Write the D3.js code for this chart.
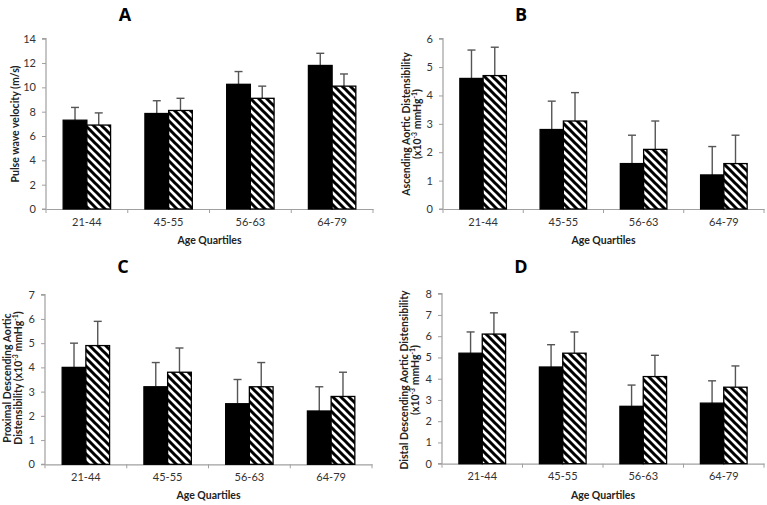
<!DOCTYPE html>
<html><head><meta charset="utf-8">
<script src="https://cdn.jsdelivr.net/npm/d3@7"></script>
<style>body{margin:0;background:#fff}svg{display:block}</style>
</head><body>
<svg id="c" width="767" height="505"></svg>
<script>
const categories = ["21-44", "45-55", "56-63", "64-79"];
// Panel A: pulse wave velocity
const aBlack = [7.3, 7.85, 10.25, 11.8];
const aBlackErr = [1.05, 1.05, 1.05, 1.0];
const aHatch = [6.9, 8.1, 9.1, 10.1];
const aHatchErr = [1.0, 1.0, 1.0, 1.0];
const aTicks = [0, 2, 4, 6, 8, 10, 12, 14];
// Panel B: ascending aortic distensibility
const bBlack = [4.6, 2.8, 1.6, 1.2];
const bBlackErr = [1.0, 1.0, 1.0, 1.0];
const bHatch = [4.7, 3.1, 2.1, 1.6];
const bHatchErr = [1.0, 1.0, 1.0, 1.0];
const bTicks = [0, 1, 2, 3, 4, 5, 6];
// Panel C: proximal descending aortic distensibility
const cBlack = [4.0, 3.2, 2.5, 2.2];
const cBlackErr = [1.0, 1.0, 1.0, 1.0];
const cHatch = [4.9, 3.8, 3.2, 2.8];
const cHatchErr = [1.0, 1.0, 1.0, 1.0];
const cTicks = [0, 1, 2, 3, 4, 5, 6, 7];
// Panel D: distal descending aortic distensibility
const dBlack = [5.2, 4.55, 2.7, 2.85];
const dBlackErr = [1.0, 1.05, 1.0, 1.05];
const dHatch = [6.1, 5.2, 4.1, 3.6];
const dHatchErr = [1.0, 1.0, 1.0, 1.0];
const dTicks = [0, 1, 2, 3, 4, 5, 6, 7, 8];

const svg = d3.select("#c");
const FONT = "Lato, 'Open Sans', sans-serif";

const defs = svg.append("defs");
const pat = defs.append("pattern").attr("id", "hatch")
  .attr("patternUnits", "userSpaceOnUse").attr("width", 8).attr("height", 8);
pat.append("rect").attr("width", 8).attr("height", 8).attr("fill", "#fff");
pat.append("path").attr("d", "M-2,-2 L10,10 M-2,6 L2,10 M6,-2 L10,2")
  .attr("stroke", "#000").attr("stroke-width", 3);

function panel(o) {
  const g = svg.append("g");
  const x = d3.scaleBand().domain(categories).range([o.x0, o.x1]);
  const y = d3.scaleLinear().domain([0, o.max]).range([o.yb, o.yt]);
  const bw = x.bandwidth() * 0.29;

  // axes
  const ya = g.append("g").attr("transform", `translate(${o.x0},0)`)
    .call(d3.axisLeft(y).tickValues(o.ticks).tickFormat(d3.format("d")).tickSize(4).tickPadding(6));
  const xa = g.append("g").attr("transform", `translate(0,${o.yb})`)
    .call(d3.axisBottom(x).tickSize(0).tickPadding(9));
  [ya, xa].forEach(a => {
    a.select(".domain").attr("stroke", "#a0a0a0").attr("stroke-width", 1.2);
    a.selectAll(".tick line").attr("stroke", "#a0a0a0");
    a.selectAll("text").attr("font-family", FONT).attr("font-size", 11).attr("fill", "#333");
  });
  ya.select(".domain").attr("d", `M-4,${o.yt}H0V${o.yb}H-4`);
  // category separator ticks
  const seps = d3.range(5).map(i => o.x0 + i * x.step());
  g.selectAll(".sep").data(seps).join("line")
    .attr("x1", d => d).attr("x2", d => d)
    .attr("y1", o.yb).attr("y2", o.yb + 4)
    .attr("stroke", "#a0a0a0");

  const series = [
    { vals: o.black, errs: o.blackErr, fill: "#000", off: -bw },
    { vals: o.hatch, errs: o.hatchErr, fill: "url(#hatch)", off: 0 }
  ];
  series.forEach(s => {
    const cx = i => x(categories[i]) + x.bandwidth() / 2 + s.off;
    g.selectAll(null).data(s.vals).join("line")
      .attr("x1", (d, i) => cx(i) + bw / 2).attr("x2", (d, i) => cx(i) + bw / 2)
      .attr("y1", d => y(d)).attr("y2", (d, i) => y(d + s.errs[i]))
      .attr("stroke", "#555").attr("stroke-width", 1.4);
    g.selectAll(null).data(s.vals).join("line")
      .attr("x1", (d, i) => cx(i) + bw / 2 - 4).attr("x2", (d, i) => cx(i) + bw / 2 + 4)
      .attr("y1", (d, i) => y(d + s.errs[i])).attr("y2", (d, i) => y(d + s.errs[i]))
      .attr("stroke", "#555").attr("stroke-width", 1.4);
    g.selectAll(null).data(s.vals).join("rect")
      .attr("x", (d, i) => cx(i)).attr("width", bw)
      .attr("y", d => y(d)).attr("height", d => o.yb - y(d))
      .attr("fill", s.fill).attr("stroke", "#000").attr("stroke-width", 1.3);
  });

  g.append("text").attr("x", o.tx).attr("y", o.ty).attr("text-anchor", "middle")
    .attr("font-family", "'Open Sans', sans-serif").attr("font-weight", "bold")
    .attr("font-size", 18).attr("fill", "#000").text(o.title);
  g.append("text").attr("x", (o.x0 + o.x1) / 2).attr("y", o.yb + 35)
    .attr("text-anchor", "middle").attr("font-family", FONT).attr("font-weight", "bold")
    .attr("font-size", 10.5).attr("fill", "#222").text("Age Quartiles");
  o.ylab.forEach((ln, k) => {
    const t = g.append("text")
      .attr("transform", `translate(${o.lx[k]},${o.ly}) rotate(-90)`)
      .attr("text-anchor", "middle").attr("font-family", FONT).attr("font-weight", "bold")
      .attr("font-size", o.lfs).attr("fill", "#222");
    ln.forEach(part => {
      const ts = t.append("tspan").text(part.t);
      if (part.sup) ts.attr("baseline-shift", "super").attr("font-size", o.lfs * 0.65);
    });
  });
}

const unit = [{ t: "(x10" }, { t: "-3", sup: true }, { t: " mmHg" }, { t: "-1", sup: true }, { t: ")" }];

panel({ x0: 46, x1: 373, yb: 209, yt: 38.7, max: 14, ticks: aTicks,
  black: aBlack, blackErr: aBlackErr, hatch: aHatch, hatchErr: aHatchErr,
  title: "A", tx: 125, ty: 21, lx: [19], ly: 124, lfs: 10.5,
  ylab: [[{ t: "Pulse wave velocity (m/s)" }]] });

panel({ x0: 443, x1: 764, yb: 209, yt: 38.7, max: 6, ticks: bTicks,
  black: bBlack, blackErr: bBlackErr, hatch: bHatch, hatchErr: bHatchErr,
  title: "B", tx: 521, ty: 21, lx: [410, 421], ly: 124, lfs: 10.5,
  ylab: [[{ t: "Ascending Aortic Distensibility" }], unit] });

panel({ x0: 45, x1: 372, yb: 464.3, yt: 294.7, max: 7, ticks: cTicks,
  black: cBlack, blackErr: cBlackErr, hatch: cHatch, hatchErr: cHatchErr,
  title: "C", tx: 123, ty: 273, lx: [11, 22], ly: 378, lfs: 10.5,
  ylab: [[{ t: "Proximal Descending Aortic" }], [{ t: "Distensibility " }].concat(unit)] });

panel({ x0: 442, x1: 764, yb: 463.7, yt: 293.7, max: 8, ticks: dTicks,
  black: dBlack, blackErr: dBlackErr, hatch: dHatch, hatchErr: dHatchErr,
  title: "D", tx: 521, ty: 273, lx: [408, 419], ly: 380, lfs: 10.5,
  ylab: [[{ t: "Distal Descending Aortic Distensibility" }], unit] });
</script>
</body></html>
